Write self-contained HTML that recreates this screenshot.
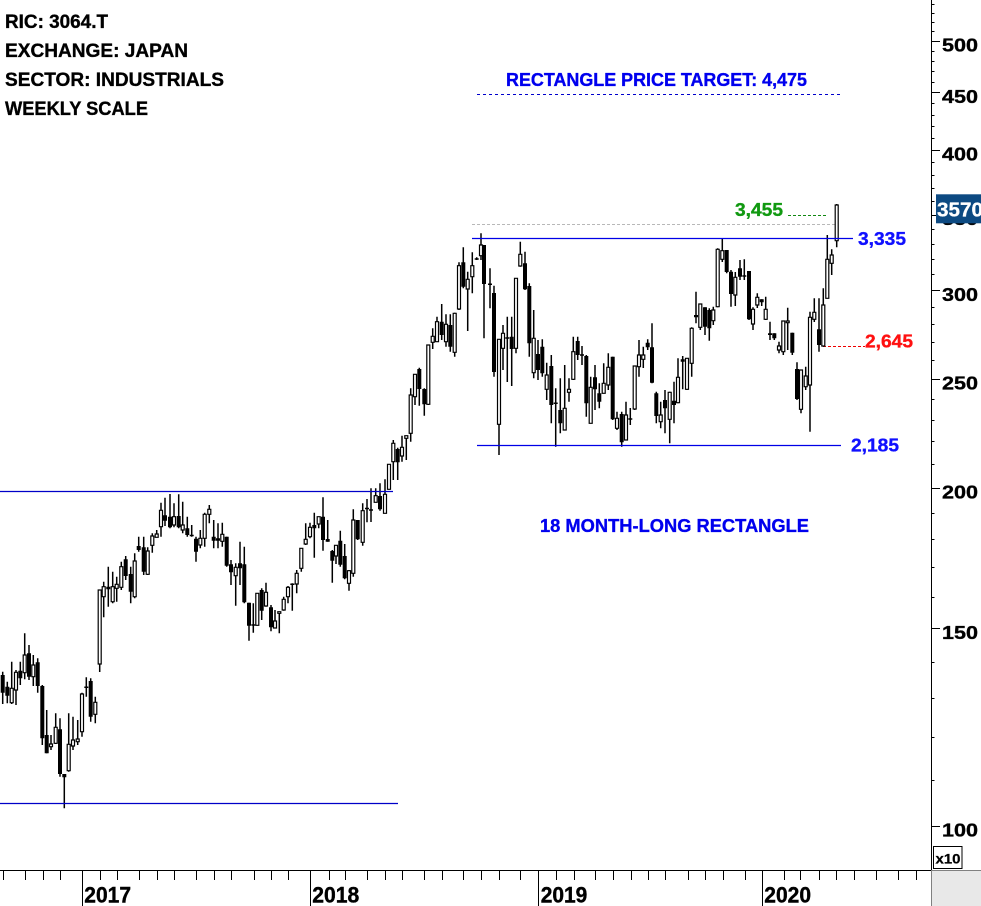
<!DOCTYPE html>
<html><head><meta charset="utf-8"><style>
html,body{margin:0;padding:0;background:#fff;}
svg{display:block;}
text{font-family:"Liberation Sans",Arial,sans-serif;font-weight:bold;}
</style></head><body>
<svg width="981" height="906" viewBox="0 0 981 906" xmlns="http://www.w3.org/2000/svg">
<rect x="0" y="0" width="981" height="906" fill="#fff"/>

<!-- dashed / dotted level lines -->
<line x1="477" y1="94.5" x2="841" y2="94.5" stroke="#0000cc" stroke-width="1" stroke-dasharray="3 3"/>
<line x1="472" y1="224.5" x2="835" y2="224.5" stroke="#b8b8b8" stroke-width="1" stroke-dasharray="3 2"/>
<line x1="788" y1="215.5" x2="828" y2="215.5" stroke="#118811" stroke-width="1" stroke-dasharray="3 2"/>
<line x1="823" y1="346.5" x2="865" y2="346.5" stroke="#ee0000" stroke-width="1" stroke-dasharray="3 2"/>

<!-- wicks -->
<path fill="none" stroke="#000" stroke-width="1.5" d="M2.7 671.7V704M7.3 681.7V703.3M11.7 661.7V704M16 670V705M20.3 661.7V685M24.7 633.3V679.3M29 645V680M33.3 655V686M37.7 658.3V692.7M42.3 685V745M46.7 710V753.3M51 735V750M55.7 713.3V744M60 718.3V776.7M64.3 774V808.3M68.7 713.3V771.7M73 716.7V750M77.7 720V745M82 692.7V736.7M86.3 677.3V696.7M90.7 678.3V721.7M95.3 696.7V723.3M99.7 590V672M103.7 581.7V617.3M108.3 566.7V606.7M112.7 571.7V603.3M116.7 576.7V601.7M121.3 561.7V590M125.7 556V580M130.7 566.7V603.3M134.7 553.3V598.3M138.7 536.7V551.7M143.7 536.7V575M147.7 547.3V575M152.3 533.3V552.7M156.7 530V537.3M161 502.7V536.7M165 497.7V526M170 494V528.3M174 503.3V527.3M178.7 494.3V528.3M182.7 501.7V533.3M187.3 516.7V536.7M191.7 525V536.7M196 536.7V561.7M200.3 530V548.3M204.7 512.7V546.7M209.3 505V523.3M213.7 520V548.3M218 523.3V548.3M222.3 522.7V546.7M226.7 536.7V566.7M231 560V585M235.7 563.3V605.7M240 541.7V585M244.3 546.7V603.3M249 602.7V640.7M253.3 603.3V632.7M257.3 593.3V625.6M261.7 588.3V620M266 582.7V606.7M271 605V631.3M275 610V628.3M279.3 611.7V633.3M283.7 596.7V610.7M288 586V603.3M292.3 583.3V610.7M296.7 570V593.3M301.3 548.3V571.7M305.7 523.3V545M310 522.7V538.3M314.3 512.7V557.7M318.7 516.7V528.3M323 497.3V550.7M327.7 520V541.7M332.3 550V582.7M336 545.3V564M340.3 530.7V566.7M344.7 544V579.3M349 570V590.7M353.3 509.3V576.7M357.7 520V540M362.7 503.3V545.7M367 499V522.3M371 488.3V522M375.7 488.3V502.3M380 483.3V510.7M385 479.3V513.3M389 464.3V489.3M393.3 440V480M397.7 447.7V480M402 435.7V461.7M406.3 435.7V460M410.7 388.3V441.7M415 374.3V405M419.3 367.7V405.7M424.3 388.3V415.7M428.3 345V405M432.7 328.3V349M437 316.7V341.7M441.7 304V340M446 314.3V346.7M450.3 314.3V351.7M454.7 312.7V356.7M459 262.3V310M463.3 247.3V288.3M467.7 271.7V331M472.3 252.3V293.3M476.7 257.3V260M481 233.3V260M484 245V338.3M490 268.3V308.3M494 285.7V376.7M499 339.3V455M503 325V370M507.3 316.7V382M511.7 316.7V386M516 278.3V353.3M520.3 241.7V266.7M525 251.7V290M529.3 283.3V356.7M533.7 310V378.3M538 340V380M542.3 339.3V376.7M546.7 362.7V400M551.3 355V423.3M555.7 388.3V446.7M560.3 378.3V433.3M564.7 365V430M569 378.3V401.7M573.3 336.7V380M577.7 336.7V360M582 346V365M586.3 355V416.7M590.7 376.7V423.3M595 365V410M599.3 383.3V408.3M603.7 363.3V393.3M608.3 353.3V390M612.7 356.7V420M617 411.7V430M621.7 411.7V446.7M626 401.7V440M630.3 408V425M634.7 366V410M639 340V376.7M643.3 346.7V368M647.7 339.3V350M652 323.3V383.3M656.3 391.7V423.3M660.7 401.7V428.3M665 390V433.3M669.7 391.7V443.3M674 381.7V423.3M678 358.3V403.3M682.7 356V389.3M687 358.3V390M691.7 327.3V376.7M696 291.7V323.3M700.3 304V330M705 307.3V335M709.3 308.3V340.7M713.3 306.7V325M717.7 248.3V307.3M722.3 238.3V262M726.7 250V273.3M731 270V306.7M735.3 272V306M740 260V280M744.3 259.3V280M749 271V320M753 307.3V330M757.3 293.3V308M761.7 299.3V306M765.7 296.7V320M770 321.7V340M774.3 333.3V340M779 341.7V353.3M783.3 321V355M787.7 307.7V350M792.3 332.7V355M797 362.3V400M801 370V413.3M805.7 366.7V390M810 311.7V431.7M814.3 298.3V322M819 298.3V351.7M823.3 288.3V346.7M827.3 235V298.3M831.7 249.3V275M836.7 204V247.3"/>

<!-- filled (down) bodies -->
<path fill="#000" stroke="none" d="M0.7 675h4v17.7h-4zM5.3 686.7h4v9h-4zM18.3 670.7h4v7.6h-4zM27 653.3h4v23.4h-4zM35.7 662.3h4v23.7h-4zM40.3 686h4v52.3h-4zM44.7 735h4v18.3h-4zM58 729.3h4v44.7h-4zM62.3 774h4v3.3h-4zM88.7 681h4v35.7h-4zM106.3 586.7h4v2.6h-4zM123.7 559.3h4v16.7h-4zM128.7 574h4v17.7h-4zM136.7 546h4v4h-4zM141.7 547.3h4v24.4h-4zM163 515.3h4v5.4h-4zM168 516.7h4v10.6h-4zM176.7 516h4v11.3h-4zM185.3 528.3h4v6.7h-4zM189.7 534.7h4v1.5h-4zM194 538.7h4v13h-4zM211.7 536.7h4v4h-4zM216 538.3h4v2.4h-4zM224.7 536.7h4v29h-4zM229 564.3h4v8h-4zM238 563.3h4v5h-4zM242.3 564.3h4v38h-4zM247 602.7h4v23h-4zM259.7 590h4v20.7h-4zM269 607.3h4v20h-4zM312.3 525h4v3.3h-4zM321 516.7h4v23.3h-4zM325.7 539h4v2.7h-4zM330.3 551h4v9.7h-4zM338.3 540.7h4v24h-4zM342.7 556h4v22.3h-4zM355.7 520h4v19.3h-4zM365 507.7h4v1.5h-4zM369 509.3h4v1.5h-4zM378 496h4v13.3h-4zM395.7 449h4v13.3h-4zM417.3 369h4v20h-4zM422.3 389h4v15.3h-4zM439.7 321.7h4v13.3h-4zM448.3 325h4v21.7h-4zM461.3 262.3h4v24.4h-4zM474.7 258.3h4v1.5h-4zM482 245h4v39h-4zM488 283.5h4v1.5h-4zM492 293h4v79h-4zM509.7 336.7h4v12.3h-4zM523 263.3h4v26h-4zM527.3 286h4v57.3h-4zM536 354h4v16h-4zM540.3 346.7h4v26.6h-4zM549.3 366h4v39h-4zM558.3 410h4v13.3h-4zM575.7 341h4v14h-4zM584.3 356h4v47.3h-4zM593 377.3h4v12h-4zM597.3 393.3h4v8.4h-4zM610.7 356.7h4v62.6h-4zM619.7 414h4v28.3h-4zM645.7 342.7h4v4.6h-4zM650 347.3h4v35.4h-4zM654.3 393.3h4v22.7h-4zM663 400h4v8.3h-4zM672 400.7h4v4.3h-4zM680.7 359.3h4v2.4h-4zM694 315h4v2.3h-4zM703 307.3h4v19.4h-4zM707.3 310h4v18.3h-4zM724.7 250h4v22h-4zM729 271.7h4v22.3h-4zM738 268.3h4v8.4h-4zM747 271h4v48.3h-4zM759.7 299.3h4v3h-4zM768 333.3h4v1.7h-4zM772.3 333.3h4v5h-4zM790.3 332.7h4v20h-4zM795 369h4v30h-4zM817 329.3h4v15.7h-4zM505.3 337.3h4v1.5h-4zM553.7 402.5h4v1.5h-4zM580 354.3h4v1.5h-4zM628.3 418.3h4v1.5h-4zM742.3 275.3h4v1.5h-4zM290.3 583.5h4v1.5h-4zM251.3 624.3h4v1.5h-4zM84.3 686.5h4v1.5h-4z"/>

<!-- hollow (up) bodies -->
<path fill="#fff" stroke="#000" stroke-width="1.2" d="M10.2 688.3h3v14.4h-3zM14.5 672.3h3v17.7h-3zM23.2 655h3v17.7h-3zM31.8 665h3v11.7h-3zM49.5 744h3v2.7h-3zM54.2 727.3h3v16h-3zM67.2 744.3h3v26.4h-3zM71.5 740h3v6h-3zM76.2 739h3v2.7h-3zM80.5 694h3v37.7h-3zM93.8 702.3h3v12h-3zM98.2 590h3v74h-3zM102.2 586.7h3v10h-3zM111.2 586.7h3v15h-3zM115.2 584.3h3v4h-3zM119.8 566.7h3v20.6h-3zM133.2 561h3v35.7h-3zM146.2 551h3v23.3h-3zM150.8 536h3v9.3h-3zM155.2 534h3v3.3h-3zM159.5 510.3h3v16.4h-3zM172.5 516.7h3v8.3h-3zM181.2 525h3v5h-3zM198.8 538.3h3v6.7h-3zM203.2 514.3h3v24h-3zM207.8 509.3h3v5h-3zM220.8 534.3h3v7h-3zM234.2 567.3h3v8.4h-3zM255.8 593.3h3v32h-3zM264.5 592.3h3v13.7h-3zM273.5 621h3v7h-3zM277.8 611.7h3v1.6h-3zM282.2 599.3h3v10.7h-3zM286.5 587.3h3v9.4h-3zM295.2 573.3h3v10.7h-3zM299.8 548.3h3v20h-3zM304.2 539.3h3v4.7h-3zM308.5 527.3h3v9.4h-3zM317.2 516.7h3v7.3h-3zM334.5 545.3h3v10.7h-3zM347.5 570.7h3v12.6h-3zM351.8 520h3v53.3h-3zM361.2 510.7h3v31.6h-3zM374.2 495.7h3v6.6h-3zM383.5 494.3h3v19h-3zM387.5 464.3h3v25h-3zM391.8 443.3h3v18.4h-3zM400.5 447.3h3v8.7h-3zM404.8 435.7h3v2.6h-3zM409.2 395h3v38.3h-3zM413.5 374.3h3v22.4h-3zM426.8 345h3v59.3h-3zM431.2 336.3h3v6h-3zM435.5 321.7h3v20h-3zM444.5 324.3h3v17.4h-3zM453.2 313.3h3v39h-3zM457.5 265.7h3v43.3h-3zM466.2 279.3h3v9.7h-3zM470.8 265.7h3v11h-3zM479.5 245h3v10.7h-3zM497.5 339.3h3v85h-3zM501.5 333.3h3v15h-3zM514.5 278.3h3v70h-3zM518.8 254.3h3v11.7h-3zM532.2 338.3h3v34.4h-3zM545.2 375h3v14.3h-3zM563.2 408.3h3v21.7h-3zM567.5 389.3h3v3h-3zM571.8 351.7h3v27.6h-3zM589.2 387.3h3v36h-3zM602.2 383.3h3v10h-3zM606.8 367.3h3v17.7h-3zM615.5 418.3h3v10h-3zM624.5 415h3v25h-3zM633.2 366h3v43h-3zM637.5 355h3v11.7h-3zM641.8 355h3v4.3h-3zM659.2 415h3v6.7h-3zM668.2 392.3h3v27h-3zM676.5 377.3h3v25.4h-3zM685.5 358.3h3v31h-3zM690.2 328.3h3v35h-3zM698.8 304h3v23.3h-3zM711.8 310h3v10.7h-3zM716.2 249.3h3v57.4h-3zM720.8 250.7h3v8.6h-3zM733.8 277.3h3v17.7h-3zM751.5 309.3h3v14.7h-3zM755.8 297.3h3v7.7h-3zM764.2 309.3h3v10h-3zM777.5 346h3v4h-3zM781.8 321h3v30.7h-3zM786.2 321h3v1.7h-3zM799.5 370h3v39.3h-3zM804.2 376h3v10.7h-3zM808.5 317.3h3v67.7h-3zM812.8 312.3h3v7h-3zM821.8 305h3v41h-3zM825.8 259.3h3v39h-3zM830.2 255h3v8.3h-3zM835.2 205h3v35.7h-3z"/>

<!-- solid level lines -->
<line x1="0" y1="491.5" x2="393" y2="491.5" stroke="#0000c8" stroke-width="1.2"/>
<line x1="0" y1="803.5" x2="398" y2="803.5" stroke="#0000c8" stroke-width="1.2"/>
<line x1="472" y1="238.5" x2="853" y2="238.5" stroke="#0000e6" stroke-width="1.2"/>
<line x1="477" y1="445.5" x2="841" y2="445.5" stroke="#0000e6" stroke-width="1.2"/>

<!-- annotations -->
<g stroke-width="0.35">
<text x="5" y="28" font-size="19" fill="#000" stroke="#000" textLength="103" lengthAdjust="spacingAndGlyphs">RIC: 3064.T</text>
<text x="5" y="57" font-size="19" fill="#000" stroke="#000" textLength="183" lengthAdjust="spacingAndGlyphs">EXCHANGE: JAPAN</text>
<text x="5" y="86" font-size="19" fill="#000" stroke="#000" textLength="219" lengthAdjust="spacingAndGlyphs">SECTOR: INDUSTRIALS</text>
<text x="5" y="115" font-size="19" fill="#000" stroke="#000" textLength="143" lengthAdjust="spacingAndGlyphs">WEEKLY SCALE</text>

<text x="506" y="86" font-size="18" fill="#0000ee" stroke="#0000ee" textLength="301" lengthAdjust="spacingAndGlyphs">RECTANGLE PRICE TARGET: 4,475</text>
<text x="540" y="532" font-size="18" fill="#0000ee" stroke="#0000ee" textLength="269" lengthAdjust="spacingAndGlyphs">18 MONTH-LONG RECTANGLE</text>
<text x="735" y="216" font-size="18.5" fill="#119911" stroke="#119911" textLength="48" lengthAdjust="spacingAndGlyphs">3,455</text>
<text x="858" y="245" font-size="18.5" fill="#1010ff" stroke="#1010ff" textLength="48" lengthAdjust="spacingAndGlyphs">3,335</text>
<text x="865" y="347.7" font-size="18.5" fill="#ff1010" stroke="#ff1010" textLength="48" lengthAdjust="spacingAndGlyphs">2,645</text>
<text x="851" y="451.7" font-size="18.5" fill="#1010ff" stroke="#1010ff" textLength="48" lengthAdjust="spacingAndGlyphs">2,185</text>
</g>

<!-- right axis -->
<line x1="931.5" y1="0" x2="931.5" y2="870" stroke="#000" stroke-width="1"/>
<path fill="none" stroke="#000" stroke-width="1" d="M931 780.5h3.5M931 737.5h3.5M931 698.5h3.5M931 662.5h3.5M931 597.5h3.5M931 567.5h3.5M931 539.5h3.5M931 513.5h3.5M931 464.5h3.5M931 441.5h3.5M931 420.5h3.5M931 399.5h3.5M931 360.5h3.5M931 342.5h3.5M931 324.5h3.5M931 307.5h3.5M931 274.5h3.5M931 259.5h3.5M931 244.5h3.5M931 229.5h3.5M931 201.5h3.5M931 188.5h3.5M931 175.5h3.5M931 162.5h3.5M931 138.5h3.5M931 126.5h3.5M931 115.5h3.5M931 103.5h3.5M931 82.5h3.5M931 71.5h3.5M931 61.5h3.5M931 51.5h3.5M931 31.5h3.5M931 22.5h3.5M931 13.5h3.5M931 4.5h3.5"/>
<path fill="none" stroke="#000" stroke-width="1" d="M931 826.5h9M931 628.5h9M931 488.5h9M931 379.5h9M931 290.5h9M931 215.5h9M931 150.5h9M931 92.5h9M931 41.5h9"/>
<g stroke="#000" stroke-width="0.35">
<text x="942" y="836.7" font-size="18.5" fill="#000" textLength="36" lengthAdjust="spacingAndGlyphs">100</text>
<text x="942" y="638.9" font-size="18.5" fill="#000" textLength="36" lengthAdjust="spacingAndGlyphs">150</text>
<text x="942" y="498.6" font-size="18.5" fill="#000" textLength="36" lengthAdjust="spacingAndGlyphs">200</text>
<text x="942" y="389.7" font-size="18.5" fill="#000" textLength="36" lengthAdjust="spacingAndGlyphs">250</text>
<text x="942" y="300.8" font-size="18.5" fill="#000" textLength="36" lengthAdjust="spacingAndGlyphs">300</text>
<text x="942" y="225" font-size="18.5" fill="#000" textLength="36" lengthAdjust="spacingAndGlyphs">350</text>
<text x="942" y="160.5" font-size="18.5" fill="#000" textLength="36" lengthAdjust="spacingAndGlyphs">400</text>
<text x="942" y="103" font-size="18.5" fill="#000" textLength="36" lengthAdjust="spacingAndGlyphs">450</text>
<text x="942" y="51.6" font-size="18.5" fill="#000" textLength="36" lengthAdjust="spacingAndGlyphs">500</text>
</g>

<!-- last price box -->
<rect x="936" y="194.3" width="45" height="29" fill="#0d4a82"/>
<text x="937" y="216.7" font-size="20.5" fill="#fff" stroke="#fff" stroke-width="0.3" textLength="46" lengthAdjust="spacingAndGlyphs">3570</text>

<!-- x10 box -->
<rect x="933.5" y="846.5" width="28.5" height="22" fill="#fff" stroke="#000" stroke-width="1"/>
<text x="935.5" y="863.5" font-size="14" fill="#000" stroke="#000" stroke-width="0.25" textLength="25" lengthAdjust="spacingAndGlyphs">x10</text>

<!-- bottom axis -->
<line x1="0" y1="870.5" x2="931" y2="870.5" stroke="#000" stroke-width="1"/>
<rect x="931" y="870" width="50" height="36" fill="#e8e8e8"/>
<line x1="931.5" y1="870" x2="931.5" y2="906" stroke="#808080" stroke-width="1"/>
<line x1="931" y1="870.5" x2="981" y2="870.5" stroke="#808080" stroke-width="1"/>
<path fill="none" stroke="#000" stroke-width="1" d="M3.5 870V880M25.5 870V880M43.5 870V880M60.5 870V880M100.5 870V880M117.5 870V880M139.5 870V880M157.5 870V880M174.5 870V880M196.5 870V880M214.5 870V880M231.5 870V880M254.5 870V880M271.5 870V880M288.5 870V880M329.5 870V880M345.5 870V880M367.5 870V880M385.5 870V880M402.5 870V880M424.5 870V880M442.5 870V880M463.5 870V880M481.5 870V880M499.5 870V880M520.5 870V880M556.5 870V880M574.5 870V880M595.5 870V880M613.5 870V880M631.5 870V880M648.5 870V880M665.5 870V880M688.5 870V880M705.5 870V880M723.5 870V880M745.5 870V880M784.5 870V880M800.5 870V880M819.5 870V880M836.5 870V880M854.5 870V880M876.5 870V880M898.5 870V880M916.5 870V880"/>
<path fill="none" stroke="#000" stroke-width="1" d="M82.5 870V906M310.5 870V906M538.5 870V906M762.5 870V906"/>
<g stroke="#000" stroke-width="0.4">
<text x="84.3" y="902.7" font-size="22" fill="#000" textLength="46.7" lengthAdjust="spacingAndGlyphs">2017</text>
<text x="312.3" y="902.7" font-size="22" fill="#000" textLength="47" lengthAdjust="spacingAndGlyphs">2018</text>
<text x="540.7" y="902.7" font-size="22" fill="#000" textLength="46.6" lengthAdjust="spacingAndGlyphs">2019</text>
<text x="764.3" y="902.7" font-size="22" fill="#000" textLength="46.7" lengthAdjust="spacingAndGlyphs">2020</text>
</g>
</svg>
</body></html>
